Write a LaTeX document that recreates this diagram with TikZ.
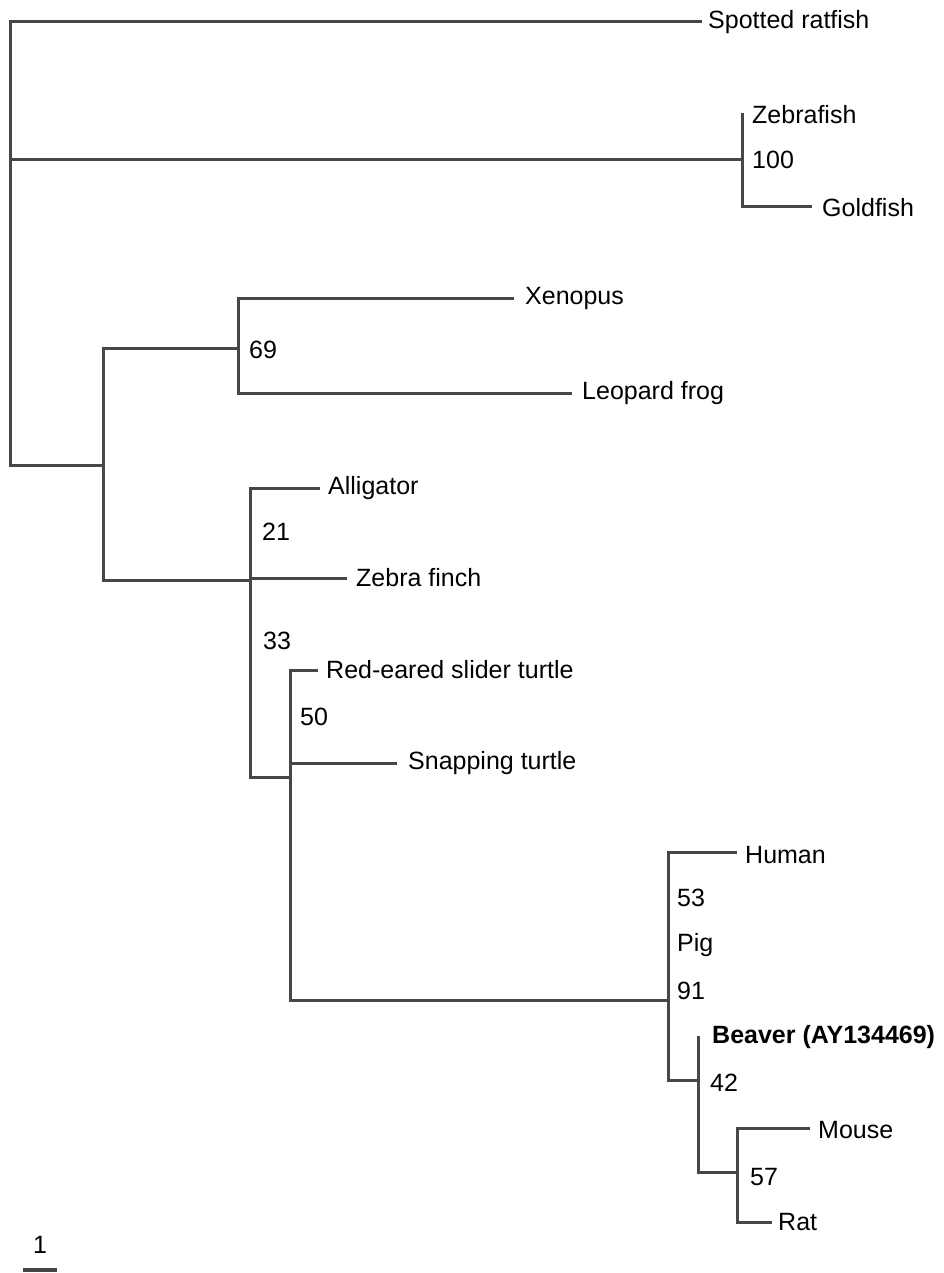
\documentclass[tikz,border=0pt]{standalone}
\usepackage{fontspec}
\setmainfont{Liberation Sans}
\begin{document}
\begin{tikzpicture}[x=1pt,y=-1pt,
  br/.style={draw=black!72, line width=3pt, line cap=rect, line join=miter},
  lbl/.style={anchor=west, inner sep=0pt, font=\fontsize{25}{28}\selectfont, text=black},
  bs/.style={anchor=west, inner sep=0pt, font=\fontsize{25}{28}\selectfont, text=black}]
\useasboundingbox (0,0) rectangle (944,1273);
% internal nodes
\coordinate (root) at (10,160);
\coordinate (fish) at (742,160);
\coordinate (tetra) at (103,465);
\coordinate (frog) at (238,348);
\coordinate (amn) at (250,580);
\coordinate (tm) at (290,777);
\coordinate (mam) at (668,1000);
\coordinate (rod) at (698,1080);
\coordinate (mr) at (737,1172);
% tips
\coordinate (tRat) at (700,22);
\coordinate (tZf) at (742,115);
\coordinate (tGf) at (810,207);
\coordinate (tXe) at (512,298);
\coordinate (tLf) at (570,393);
\coordinate (tAl) at (318,488);
\coordinate (tZb) at (345,578);
\coordinate (tRe) at (316,670);
\coordinate (tSn) at (395,763);
\coordinate (tHu) at (735,852);
\coordinate (tPi) at (668,945);
\coordinate (tBe) at (698,1037);
\coordinate (tMo) at (808,1128);
\coordinate (tRa) at (770,1222);
% labels
\node[lbl] (lRat) at (708,22) {Spotted ratfish};
\node[lbl] (lZf) at (752,115) {Zebrafish};
\node[lbl] (lGf) at (822,208) {Goldfish};
\node[lbl] (lXe) at (525,298) {Xenopus};
\node[lbl] (lLf) at (582,393) {Leopard frog};
\node[lbl] (lAl) at (328,488) {Alligator};
\node[lbl] (lZb) at (356,578) {Zebra finch};
\node[lbl] (lRe) at (326,670) {Red-eared slider turtle};
\node[lbl] (lSn) at (408,763) {Snapping turtle};
\node[lbl] (lHu) at (745,855) {Human};
\node[lbl] (lPi) at (677,945) {Pig};
\node[lbl, font=\fontsize{25}{28}\selectfont\bfseries] (lBe) at (712,1037) {Beaver (AY134469)};
\node[lbl] (lMo) at (818,1130) {Mouse};
\node[lbl] (lRa) at (778,1222) {Rat};
% bootstrap values
\node[bs] (b100) at (752,160) {100};
\node[bs] (b69) at (249,350) {69};
\node[bs] (b21) at (262,532) {21};
\node[bs] (b33) at (263,641) {33};
\node[bs] (b50) at (300,717) {50};
\node[bs] (b53) at (677,898) {53};
\node[bs] (b91) at (677,991) {91};
\node[bs] (b42) at (710,1083) {42};
\node[bs] (b57) at (750,1177) {57};
% branches
\draw[br] (root) |- (tRat);
\draw[br] (root) -- (fish);
\draw[br] (root) |- (tetra);
\draw[br] (fish) |- (tZf);
\draw[br] (fish) |- (tGf);
\draw[br] (tetra) |- (frog);
\draw[br] (tetra) |- (amn);
\draw[br] (frog) |- (tXe);
\draw[br] (frog) |- (tLf);
\draw[br] (amn) |- (tAl);
\draw[br] (amn) |- (tZb);
\draw[br] (amn) |- (tm);
\draw[br] (tm) |- (tRe);
\draw[br] (tm) |- (tSn);
\draw[br] (tm) |- (mam);
\draw[br] (mam) |- (tHu);
\draw[br] (mam) |- (tPi);
\draw[br] (mam) |- (rod);
\draw[br] (rod) |- (tBe);
\draw[br] (rod) |- (mr);
\draw[br] (mr) |- (tMo);
\draw[br] (mr) |- (tRa);
% scale bar
\node[lbl, anchor=center] (sbl) at (40,1245) {1};
\coordinate (sb1) at (23,1270);
\coordinate (sb2) at (57,1270);
\draw[br, line width=3.5pt, line cap=butt] (sb1) -- (sb2);
\end{tikzpicture}
\end{document}
